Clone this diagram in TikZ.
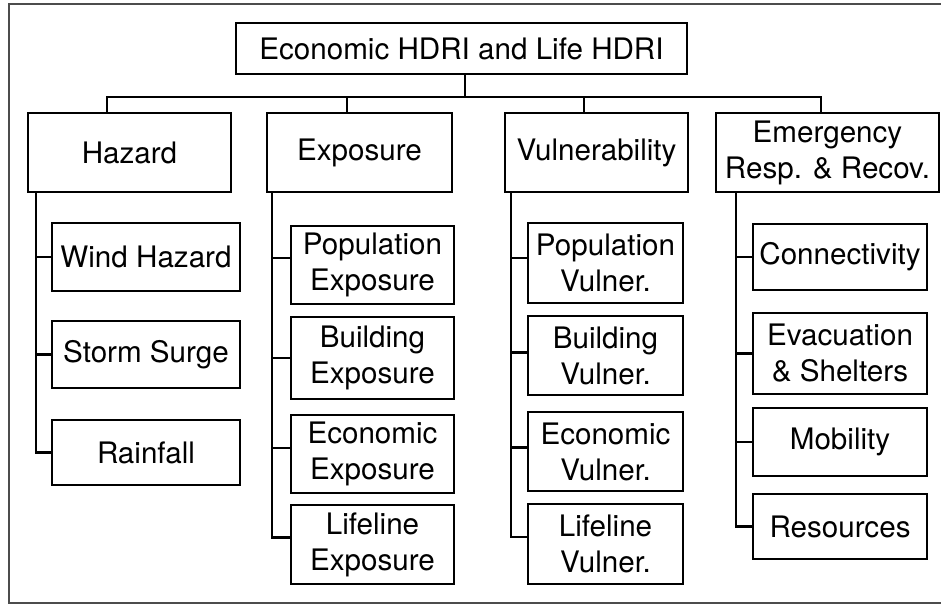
\documentclass[tikz,border=0pt]{standalone}
\usepackage{fontspec}
\setmainfont{TeX Gyre Heros}

\tikzset{
  catbox/.style={draw, line width=1.2pt, align=center, inner sep=0pt,
    minimum height=39.5pt},
  leafbox/.style={draw, line width=1.2pt, align=center, inner sep=0pt},
  link/.style={line width=1.1pt},
  frame/.style={line width=1.2pt, draw=black!70}
}

\begin{document}
\begin{tikzpicture}[x=0.5pt, y=-0.5pt, font=\fontsize{14.8}{18}\selectfont]
            \useasboundingbox (0,0) rectangle (941,606);
            \draw[frame] (945,4) -- (9,4) -- (9,603) -- (945,603);

            % top level
            \node[leafbox, minimum width=225.5pt, minimum height=25.5pt] (top) at (461.5,48.5) {Economic HDRI and Life HDRI};

            % four components
            \node[catbox, minimum width=101.5pt] (haz) at (129.5,152.5) {Hazard};
            \node[catbox, minimum width=92.5pt] (expo) at (359.5,152.5) {Exposure};
            \node[catbox, minimum width=91.5pt] (vuln) at (596.5,152.5) {Vulnerability};
            \node[catbox, minimum width=111.5pt] (emer) at (827.5,152.5) {Emergency\\Resp. \& Recov.};

            % hazard
            \node[leafbox, minimum width=94pt, minimum height=34pt] (wind) at (146,257) {Wind Hazard};
            \node[leafbox, minimum width=94pt, minimum height=33.5pt] (surge) at (146,354.5) {Storm Surge};
            \node[leafbox, minimum width=94pt, minimum height=32.5pt] (rain) at (146,452.5) {Rainfall};

            % exposure
            \node[leafbox, minimum width=81.5pt, minimum height=39pt] (popexp) at (372.5,265) {Population\\Exposure};
            \node[leafbox, minimum width=81.5pt, minimum height=41pt] (bldexp) at (372.5,358) {Building\\Exposure};
            \node[leafbox, minimum width=81.5pt, minimum height=39pt] (ecoexp) at (372.5,454) {Economic\\Exposure};
            \node[leafbox, minimum width=81.5pt, minimum height=39.5pt] (lifexp) at (372.5,544.5) {Lifeline\\Exposure};

            % vulnerability
            \node[leafbox, minimum width=77.5pt, minimum height=40pt] (popvul) at (605.5,263) {Population\\Vulner.};
            \node[leafbox, minimum width=77.5pt, minimum height=39.5pt] (bldvul) at (605.5,355.5) {Building\\Vulner.};
            \node[leafbox, minimum width=77.5pt, minimum height=39.5pt] (ecovul) at (605.5,451.5) {Economic\\Vulner.};
            \node[leafbox, minimum width=77.5pt, minimum height=40pt] (lifvul) at (605.5,544) {Lifeline\\Vulner.};

            % emergency response and recovery
            \node[leafbox, minimum width=87pt, minimum height=33pt] (conn) at (840,257) {Connectivity};
            \node[leafbox, minimum width=87pt, minimum height=40.5pt] (evac) at (840,353.5) {Evacuation\\\& Shelters};
            \node[leafbox, minimum width=87pt, minimum height=34pt] (mobil) at (840,442) {Mobility};
            \node[leafbox, minimum width=87pt, minimum height=32.5pt] (resrc) at (840,526.5) {Resources};

            % top to components
            \coordinate (bus) at (465,97);
            \draw[link] (bus |- top.south) -- (bus);
            \draw[link] (bus) -| ([xshift=-11.25pt]haz.north);
            \draw[link] (bus) -| ([xshift=-6.25pt]expo.north);
            \draw[link] (bus) -| ([xshift=-6.25pt]vuln.north);
            \draw[link] (bus) -| ([xshift=-3.25pt]emer.north);

            % components to sub-indices
            \draw[link] ([xshift=4.5pt]haz.south west) |- (wind.west);
            \draw[link] ([xshift=4.5pt]haz.south west) |- (surge.west);
            \draw[link] ([xshift=4.5pt]haz.south west) |- (rain.west);

            \draw[link] ([xshift=3pt]expo.south west) |- ([yshift=3.5pt]popexp.west);
            \draw[link] ([xshift=3pt]expo.south west) |- (bldexp.west);
            \draw[link] ([xshift=3pt]expo.south west) |- ([yshift=3pt]ecoexp.west);
            \draw[link] ([xshift=3pt]expo.south west) |- ([yshift=3.5pt]lifexp.west);

            \draw[link] ([xshift=3.5pt]vuln.south west) |- ([yshift=2.5pt]popvul.west);
            \draw[link] ([xshift=3.5pt]vuln.south west) |- ([yshift=1.5pt]bldvul.west);
            \draw[link] ([xshift=3.5pt]vuln.south west) |- ([yshift=2pt]ecovul.west);
            \draw[link] ([xshift=3.5pt]vuln.south west) |- ([yshift=3.5pt]lifvul.west);

            \draw[link] ([xshift=10.5pt]emer.south west) |- (conn.west);
            \draw[link] ([xshift=10.5pt]emer.south west) |- (evac.west);
            \draw[link] ([xshift=10.5pt]emer.south west) |- (mobil.west);
            \draw[link] ([xshift=10.5pt]emer.south west) |- (resrc.west);
        \end{tikzpicture}
\end{document}
